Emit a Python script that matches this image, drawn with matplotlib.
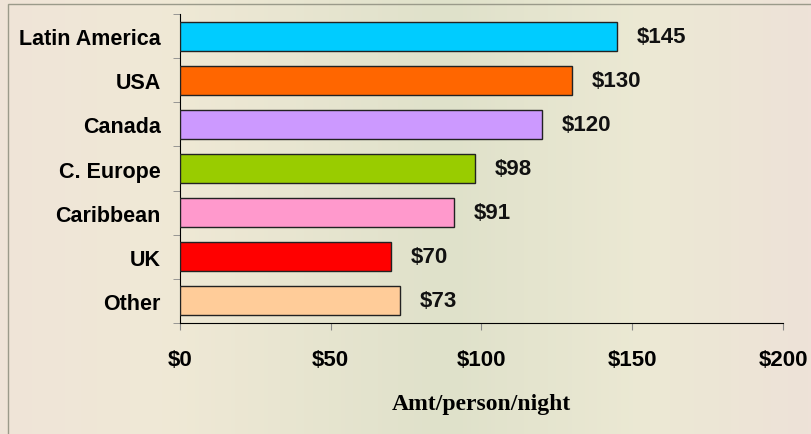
import numpy as np
import matplotlib
matplotlib.use('Agg')
import matplotlib.pyplot as plt
from matplotlib.patches import Rectangle

regions = ['Latin America', 'USA', 'Canada', 'C. Europe', 'Caribbean', 'UK', 'Other']
values = [145, 130, 120, 98, 91, 70, 73]
colors = ['#00CCFF', '#FF6600', '#CC99FF', '#99CC00', '#FF99CC', '#FF0000', '#FFCC99']
xticks = [0, 50, 100, 150, 200]
xlabel = 'Amt/person/night'

fig = plt.figure(figsize=(8.12, 4.35), dpi=100)

# soft background: blend of colours across the slide
bg = fig.add_axes([0, 0, 1, 1], zorder=-10)
w, h = 200, 100
xs = np.linspace(0, 1, w)
stops_x = [0.0, 0.2, 0.55, 0.8, 1.0]
stops_c = np.array([[239, 228, 216], [240, 233, 214], [223, 225, 202],
                    [236, 233, 212], [238, 226, 216]]) / 255.0
row = np.stack([np.interp(xs, stops_x, stops_c[:, k]) for k in range(3)], axis=-1)
img = np.repeat(row[None, :, :], h, axis=0)
bg.imshow(img, aspect='auto', extent=[0, 1, 0, 1])
bg.set_xlim(0, 1)
bg.set_ylim(0, 1)
bg.axis('off')
bg.add_patch(Rectangle((8 / 812, -0.1), 1.1, 1 - 5 / 435 + 0.1, fill=False,
                       edgecolor='#9a9a8a', linewidth=1.0))

ax = fig.add_axes([180 / 812, 1 - 324 / 435, 603 / 812, 309 / 435])
ax.patch.set_alpha(0)

y = np.arange(len(regions))
ax.barh(y, values, height=0.66, color=colors, edgecolor='#222222', linewidth=1.0, zorder=3)
ax.set_ylim(len(regions) - 0.5, -0.5)
ax.set_xlim(0, 200)

for yi, v in zip(y, values):
    ax.annotate('$%d' % v, (v, yi), xytext=(14, 0), textcoords='offset points',
                va='center', ha='left', fontsize=16, fontweight='bold',
                family='Liberation Sans', color='#111111')

ax.set_yticks(y)
ax.set_yticklabels(regions, fontsize=15.5, fontweight='bold', family='Liberation Sans')
ax.set_yticks(np.arange(-0.5, len(regions) + 0.5, 1), minor=True)
ax.tick_params(axis='y', which='major', length=0, pad=14)
ax.tick_params(axis='y', which='minor', length=5, color='#888888', direction='out')

ax.set_xticks(xticks)
ax.set_xticklabels(['$%d' % t for t in xticks], fontsize=16, fontweight='bold',
                   family='Liberation Sans')
ax.tick_params(axis='x', length=5, color='#888888', direction='out', pad=14)
ax.set_xlabel(xlabel, fontsize=17, fontweight='bold', family='Liberation Serif', labelpad=16)

for s in ['top', 'right']:
    ax.spines[s].set_visible(False)
ax.spines['left'].set_color('black')
ax.spines['bottom'].set_color('black')

fig.savefig('out.png', dpi=100)
